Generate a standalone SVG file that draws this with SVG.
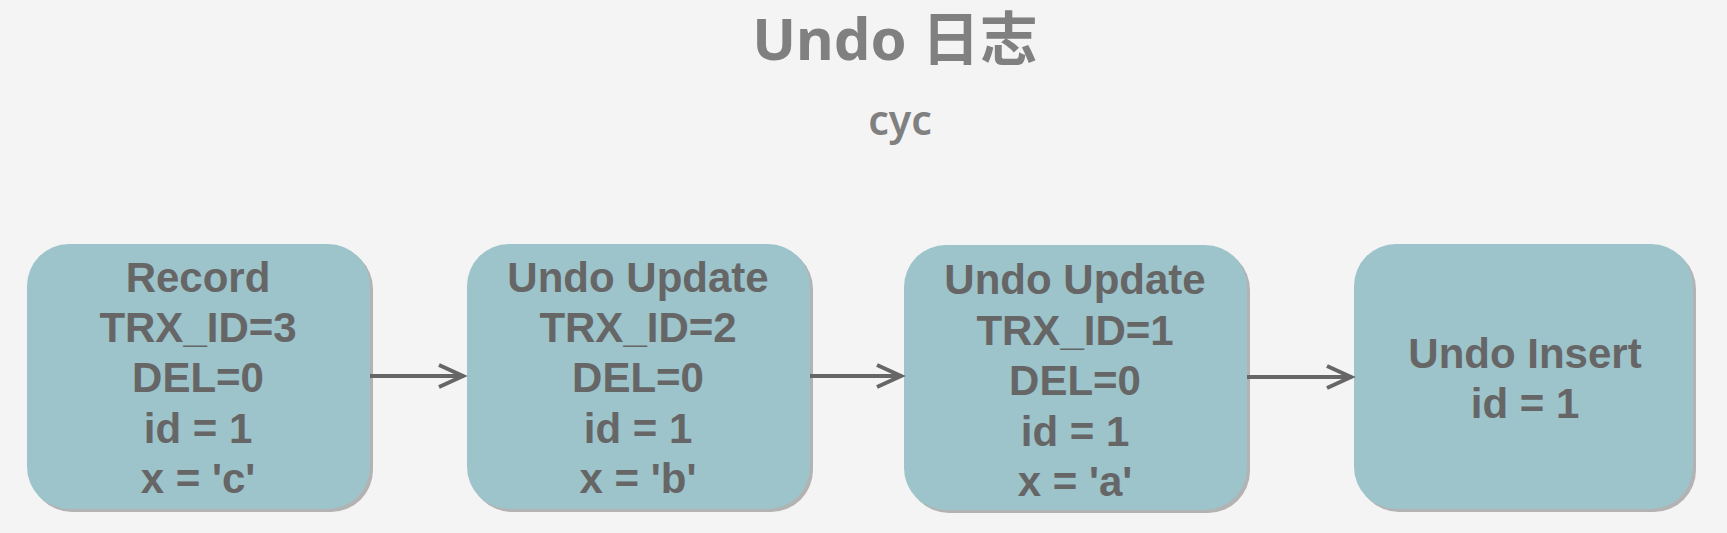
<svg xmlns="http://www.w3.org/2000/svg" width="1727" height="533" viewBox="0 0 1727 533">
<style>
.bg{fill:#f4f4f4}
.shadow{fill:#b3b3b3}
.box{fill:#9dc3cb}
.lbl{font-family:"Liberation Sans",Arial,sans-serif;font-weight:bold;font-size:42px;fill:#666666;text-anchor:middle}
.title{font-family:"Noto Sans","Noto Sans CJK SC",sans-serif;font-weight:bold;font-size:58px;fill:#808080;text-anchor:middle}
.sub{font-family:"Noto Sans",sans-serif;font-weight:600;font-size:41px;fill:#808080;text-anchor:middle}
.conn{stroke:#666666;stroke-width:4;fill:none}
</style>
<defs>
<marker id="arr" markerUnits="userSpaceOnUse" markerWidth="30" markerHeight="30" refX="0" refY="0" orient="auto" overflow="visible">
<path d="M-25,-11 L-1,0 L-25,11" fill="none" stroke="#666666" stroke-width="4"/>
</marker>
</defs>
<rect class="bg" x="0" y="0" width="1727" height="533"/>
<g id="title">
<text class="title" x="895" y="60">Undo 日志</text>
<text class="sub" x="900" y="135">cyc</text>
</g>
<g id="node1">
<rect class="shadow" x="30" y="247" width="343" height="265" rx="42"/>
<rect class="box" x="27" y="244" width="343" height="265" rx="42"/>
<text class="lbl" x="198" y="292">Record</text>
<text class="lbl" x="198" y="342">TRX_ID=3</text>
<text class="lbl" x="198" y="392">DEL=0</text>
<text class="lbl" x="198" y="443">id = 1</text>
<text class="lbl" x="198" y="493">x = 'c'</text>
</g>
<g id="node2">
<rect class="shadow" x="470" y="247" width="343" height="265" rx="42"/>
<rect class="box" x="467" y="244" width="343" height="265" rx="42"/>
<text class="lbl" x="638" y="292">Undo Update</text>
<text class="lbl" x="638" y="342">TRX_ID=2</text>
<text class="lbl" x="638" y="392">DEL=0</text>
<text class="lbl" x="638" y="443">id = 1</text>
<text class="lbl" x="638" y="493">x = 'b'</text>
</g>
<g id="node3">
<rect class="shadow" x="907" y="248" width="343" height="265" rx="42"/>
<rect class="box" x="904" y="245" width="343" height="265" rx="42"/>
<text class="lbl" x="1075" y="294">Undo Update</text>
<text class="lbl" x="1075" y="345">TRX_ID=1</text>
<text class="lbl" x="1075" y="395">DEL=0</text>
<text class="lbl" x="1075" y="446">id = 1</text>
<text class="lbl" x="1075" y="496">x = 'a'</text>
</g>
<g id="node4">
<rect class="shadow" x="1357" y="247" width="339" height="265" rx="42"/>
<rect class="box" x="1354" y="244" width="339" height="265" rx="42"/>
<text class="lbl" x="1525" y="368">Undo Insert</text>
<text class="lbl" x="1525" y="418">id = 1</text>
</g>
<g id="connectors">
<line class="conn" x1="370" y1="376" x2="464" y2="376" marker-end="url(#arr)"/>
<line class="conn" x1="810" y1="376" x2="902" y2="376" marker-end="url(#arr)"/>
<line class="conn" x1="1247" y1="377" x2="1352" y2="377" marker-end="url(#arr)"/>
</g>
</svg>
